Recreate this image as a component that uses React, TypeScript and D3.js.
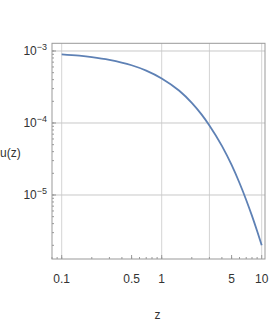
import * as d3 from "d3";

// values
const zValues = [0.1, 0.15, 0.2, 0.3, 0.5, 0.7, 1, 1.5, 2, 2.5, 3, 4, 5, 6, 7, 8, 9, 10];
const uValues = [
  8.99e-4, 8.6e-4, 8.22e-4, 7.53e-4, 6.34e-4, 5.35e-4, 4.16e-4, 2.8e-4, 1.905e-4,
  1.318e-4, 9.25e-5, 4.8e-5, 2.61e-5, 1.466e-5, 8.53e-6, 5.12e-6, 3.155e-6, 2.0e-6,
];

const xTickLabels = ["0.1", "0.5", "1", "5", "10"];
const xTickValues = [0.1, 0.5, 1, 5, 10];
const xGrid = [0.1, 1, 3, 10];
const yDecades = [-3, -4, -5];

const font = "'Liberation Sans Narrow', 'Liberation Sans', Arial, sans-serif";

export default function App() {
  const width = 273;
  const height = 327;
  const left = 52;
  const right = 265;
  const top = 43.3;
  const bottom = 259;

  const x = d3.scaleLog().domain([0.07998, 10.79]).range([left, right]);
  const y = d3.scaleLog().domain([1.291e-6, 1.279e-3]).range([bottom, top]);

  const pts = zValues.map((z, i) => [z, uValues[i]] as [number, number]);
  const line = d3
    .line<[number, number]>()
    .x((d) => x(d[0]))
    .y((d) => y(d[1]))
    .curve(d3.curveMonotoneX);

  // minor ticks
  const xMinor: number[] = [];
  [0.01, 0.1, 1].forEach((b) => {
    for (let k = 1; k <= 9; k++) {
      const v = b * k;
      if (v >= 0.08 && v <= 10.79) xMinor.push(v);
    }
  });
  const yMinor: number[] = [];
  [1e-7, 1e-6, 1e-5, 1e-4, 1e-3].forEach((b) => {
    for (let k = 1; k <= 9; k++) {
      const v = b * k;
      if (v >= 1.3e-6 && v <= 1.279e-3) yMinor.push(v);
    }
  });

  return (
    <svg width={width} height={height} style={{ position: "absolute", left: 0, top: 0 }}>
      <rect width={width} height={height} fill="white" />
      {/* grid */}
      {xGrid.map((g) => (
        <line key={"gx" + g} x1={x(g)} x2={x(g)} y1={top} y2={bottom} stroke="#d4d4d4" strokeWidth={1} />
      ))}
      {yDecades.map((d) => (
        <line key={"gy" + d} x1={left} x2={right} y1={y(Math.pow(10, d))} y2={y(Math.pow(10, d))} stroke="#c8c8c8" strokeWidth={1} />
      ))}
      {/* frame */}
      <rect x={left} y={top} width={right - left} height={bottom - top} fill="none" stroke="#999" strokeWidth={1} />
      {/* ticks */}
      {xMinor.map((v) => (
        <line key={"xm" + v} x1={x(v)} x2={x(v)} y1={bottom} y2={bottom - 2} stroke="#999" />
      ))}
      {xTickValues.map((v) => (
        <line key={"xM" + v} x1={x(v)} x2={x(v)} y1={bottom} y2={bottom - 4} stroke="#999" />
      ))}
      {yMinor.map((v) => (
        <line key={"ym" + v} x1={left} x2={left + 2} y1={y(v)} y2={y(v)} stroke="#999" />
      ))}
      {yDecades.map((d) => (
        <line key={"yM" + d} x1={left} x2={left + 4} y1={y(Math.pow(10, d))} y2={y(Math.pow(10, d))} stroke="#999" />
      ))}
      {/* curve */}
      <path d={line(pts) ?? ""} fill="none" stroke="#5E81B5" strokeWidth={1.8} />
      {/* tick labels */}
      {xTickValues.map((v, i) => (
        <text key={"xl" + v} x={x(v)} y={283} textAnchor="middle" fontFamily={font} fontSize={12} fill="#333">
          {xTickLabels[i]}
        </text>
      ))}
      {yDecades.map((d) => (
        <text key={"yl" + d} x={47} y={y(Math.pow(10, d)) + 4.5} textAnchor="end" fontFamily={font} fontSize={12} fill="#333">
          10
          <tspan dy={-5} fontSize={9}>
            {"\u2212" + Math.abs(d)}
          </tspan>
        </text>
      ))}
      {/* axis labels */}
      <text x={0} y={157} fontFamily={font} fontSize={12} fill="#333">
        u(z)
      </text>
      <text x={157.5} y={319} textAnchor="middle" fontFamily={font} fontSize={12} fill="#333">
        z
      </text>
    </svg>
  );
}
